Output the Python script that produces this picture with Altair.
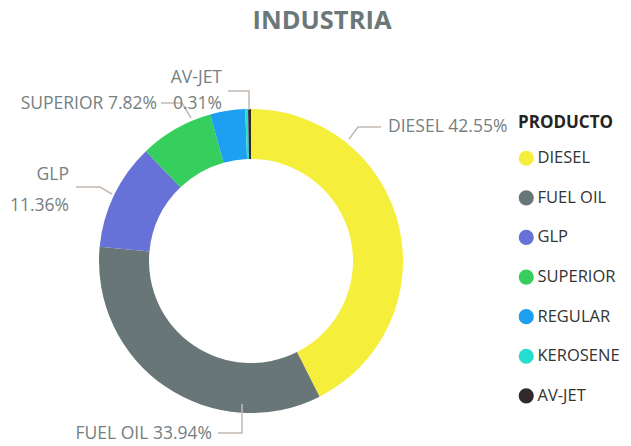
import altair as alt
import pandas as pd

# ---- data ----
products = ["DIESEL", "FUEL OIL", "GLP", "SUPERIOR", "REGULAR", "KEROSENE", "AV-JET"]
shares = [42.55, 33.94, 11.36, 7.82, 3.72, 0.30, 0.31]
colors = ["#F5EE3B", "#687678", "#6772D8", "#36CF5E", "#1D9FF2", "#25DDD0", "#34292A"]
labelled = ["DIESEL", "FUEL OIL", "GLP", "SUPERIOR", "AV-JET"]
title_text = "INDUSTRIA"
legend_title = "PRODUCTO"

# ---- layout (page pixel coordinates) ----
W, H = 615, 438
CX, CY = 251, 261
R_OUT, R_IN = 152, 102
FONT = "Open Sans"
LABEL_COLOR = "#76807F"
LEADER_COLOR = "#C3BAB3"

label_layout = {
    "DIESEL":   {"lines": [(388, 127, "left", "both")],
                 "leader": [(349, 139), (358, 127), (381, 127)]},
    "FUEL OIL": {"lines": [(212, 434, "right", "both")],
                 "leader": [(242, 404), (242, 433), (218, 433)]},
    "GLP":      {"lines": [(69, 175, "right", "name"), (69, 206, "right", "pct")],
                 "leader": [(112, 194), (100, 187), (76, 187)]},
    "SUPERIOR": {"lines": [(157, 104, "right", "both")],
                 "leader": [(191, 118), (182, 103), (161, 103)]},
    "AV-JET":   {"lines": [(222, 78, "right", "name"), (222, 104, "right", "pct")],
                 "leader": [(249, 110), (249, 91), (228, 91)]},
}

df = pd.DataFrame({"product": products, "share": shares, "idx": range(len(products))})

share_of = dict(zip(products, shares))
text_rows, line_rows = [], []
for p in labelled:
    pct = f"{share_of[p]:.2f}%"
    lay = label_layout[p]
    for (x, y, al, kind) in lay["lines"]:
        t = {"both": f"{p} {pct}", "name": p, "pct": pct}[kind]
        text_rows.append({"x": x, "y": y, "align": al, "text": t})
    for i, (x, y) in enumerate(lay["leader"]):
        line_rows.append({"product": p, "i": i, "x": x, "y": y})
tdf = pd.DataFrame(text_rows)
ldf = pd.DataFrame(line_rows)

xs = alt.Scale(domain=[8, 8 + W], nice=False, zero=False)
ys = alt.Scale(domain=[8, 8 + H], nice=False, zero=False, reverse=True)

arc = alt.Chart(df).mark_arc(innerRadius=R_IN, outerRadius=R_OUT).encode(
    theta=alt.Theta("share:Q", stack=True),
    order=alt.Order("idx:Q"),
    color=alt.Color(
        "product:N",
        scale=alt.Scale(domain=products, range=colors),
        sort=products,
        legend=alt.Legend(
            title=legend_title, orient="none", legendX=510, legendY=107,
            symbolType="circle", symbolSize=230, symbolStrokeWidth=0,
            labelFont=FONT, labelFontSize=16.5, labelColor="#333333", labelOffset=3,
            titleFont=FONT, titleFontSize=17, titleFontWeight="bold", titleColor="#252423",
            titlePadding=18, rowPadding=22.6,
        ),
    ),
    x=alt.value(CX - 8),
    y=alt.value(CY - 8),
)

leaders = alt.Chart(ldf).mark_line(color=LEADER_COLOR, strokeWidth=1.5).encode(
    x=alt.X("x:Q", scale=xs, axis=None),
    y=alt.Y("y:Q", scale=ys, axis=None),
    detail="product:N",
    order="i:Q",
)

def text_layer(al):
    return alt.Chart(tdf[tdf["align"] == al]).mark_text(
        align=al, baseline="middle", font=FONT, fontSize=17.5, color=LABEL_COLOR
    ).encode(
        x=alt.X("x:Q", scale=xs, axis=None),
        y=alt.Y("y:Q", scale=ys, axis=None),
        text="text:N",
    )

title = alt.Chart(pd.DataFrame({"t": [title_text]})).mark_text(
    align="center", baseline="alphabetic", font=FONT, fontSize=25.5, fontWeight="bold", color="#6B7778"
).encode(x=alt.value(322 - 8), y=alt.value(29 - 8), text="t:N")

chart = alt.layer(arc, leaders, text_layer("left"), text_layer("right"), title).properties(
    width=W, height=H, autosize=alt.AutoSizeParams(type="none"), padding=0
).configure_view(stroke=None)

chart.save("out.html", embed_options={"renderer": "svg", "actions": False})
